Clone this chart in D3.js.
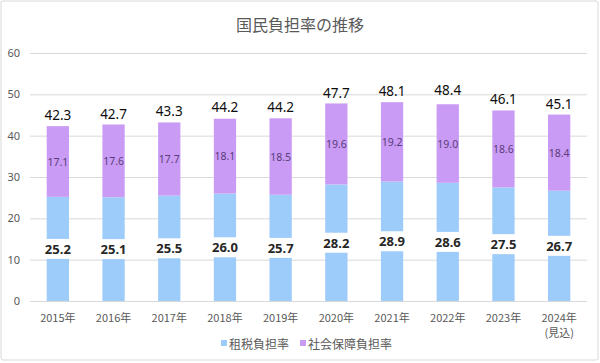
<!DOCTYPE html>
<html>
<head>
<meta charset="utf-8">
<script src="https://cdn.jsdelivr.net/npm/d3@7"></script>
<style>
	body { margin: 0; background: #fff; }
	svg text { font-family: "Noto Sans CJK JP", "Noto Sans", sans-serif; }
</style>
</head>
<body>
<svg id="chart" width="600" height="363"></svg>
<script>
var years = ['2015年', '2016年', '2017年', '2018年', '2019年', '2020年', '2021年', '2022年', '2023年', '2024年'];
var yearNotes = ['', '', '', '', '', '', '', '', '', '(見込)'];
var taxBurden = [25.2, 25.1, 25.5, 26.0, 25.7, 28.2, 28.9, 28.6, 27.5, 26.7];
var socialBurden = [17.1, 17.6, 17.7, 18.1, 18.5, 19.6, 19.2, 19.0, 18.6, 18.4];
var totalBurden = [42.3, 42.7, 43.3, 44.2, 44.2, 47.7, 48.1, 48.4, 46.1, 45.1];
var yTicks = [0, 10, 20, 30, 40, 50, 60];
var seriesNames = ['租税負担率', '社会保障負担率'];

var params = {
	left: 30,
	right: 587,
	top: 53,
	bottom: 301,
	taxColor: '#9dcbfa',
	socialColor: '#c99bf5'
};

var svg = d3.select('#chart');

svg.append('rect')
	.attr('x', 1).attr('y', 1)
	.attr('width', 597).attr('height', 359)
	.attr('rx', 2)
	.attr('fill', '#fff')
	.attr('stroke', '#d9d9d9');

svg.append('text')
	.attr('x', 300).attr('y', 31)
	.attr('text-anchor', 'middle')
	.attr('font-size', 16)
	.attr('fill', '#595959')
	.text('国民負担率の推移');

var x = d3.scaleBand()
	.domain(years)
	.range([params.left, params.right])
	.paddingInner(0.6)
	.paddingOuter(0.3);

var y = d3.scaleLinear()
	.domain([0, 60])
	.range([params.bottom, params.top]);

// grid + y labels
var yAxis = svg.append('g')
	.attr('transform', 'translate(' + params.left + ',0)')
	.call(d3.axisLeft(y).tickValues(yTicks).tickSize(-(params.right - params.left)).tickPadding(10));
yAxis.select('.domain').remove();
yAxis.selectAll('.tick line').attr('stroke', '#d9d9d9');
yAxis.selectAll('.tick text')
	.attr('fill', '#595959')
	.attr('font-size', 11)
	.style('font-family', '"Noto Sans", sans-serif');

var data = years.map(function(yr, i) {
	return { year: yr, note: yearNotes[i], tax: taxBurden[i], social: socialBurden[i], total: totalBurden[i] };
});

var bars = svg.append('g').selectAll('g').data(data).enter().append('g');

bars.append('rect')
	.attr('x', function(d) { return x(d.year); })
	.attr('width', x.bandwidth())
	.attr('y', function(d) { return y(d.tax); })
	.attr('height', function(d) { return y(0) - y(d.tax); })
	.attr('fill', params.taxColor);

bars.append('rect')
	.attr('x', function(d) { return x(d.year); })
	.attr('width', x.bandwidth())
	.attr('y', function(d) { return y(d.tax + d.social); })
	.attr('height', function(d) { return y(d.tax) - y(d.tax + d.social); })
	.attr('fill', params.socialColor);

// tax labels with white box, at middle of blue bar
bars.append('rect')
	.attr('x', function(d) { return x(d.year) + x.bandwidth() / 2 - 15; })
	.attr('y', function(d) { return y(d.tax / 2) - 10; })
	.attr('width', 30)
	.attr('height', 20)
	.attr('fill', '#fff');

bars.append('text')
	.attr('x', function(d) { return x(d.year) + x.bandwidth() / 2; })
	.attr('y', function(d) { return y(d.tax / 2) + 5; })
	.attr('text-anchor', 'middle')
	.attr('font-size', 13)
	.attr('font-weight', 'bold')
	.attr('fill', '#262626')
	.style('font-family', '"Noto Sans", sans-serif')
	.text(function(d) { return d.tax.toFixed(1); });

bars.append('text')
	.attr('x', function(d) { return x(d.year) + x.bandwidth() / 2; })
	.attr('y', function(d) { return y(d.tax + d.social / 2) + 4; })
	.attr('text-anchor', 'middle')
	.attr('font-size', 10.5)
	.attr('fill', '#5a3d7a')
	.style('font-family', '"Noto Sans", sans-serif')
	.text(function(d) { return d.social.toFixed(1); });

bars.append('text')
	.attr('x', function(d) { return x(d.year) + x.bandwidth() / 2; })
	.attr('y', function(d) { return y(d.total) - 6; })
	.attr('text-anchor', 'middle')
	.attr('font-size', 13.5)
	.attr('fill', '#0d0d0d')
	.style('font-family', '"Noto Sans", sans-serif')
	.text(function(d) { return d.total.toFixed(1); });

// x labels
var xl = svg.append('g');
xl.selectAll('text.yr').data(data).enter().append('text')
	.attr('class', 'yr')
	.attr('x', function(d) { return x(d.year) + x.bandwidth() / 2; })
	.attr('y', 322)
	.attr('text-anchor', 'middle')
	.attr('font-size', 11)
	.attr('fill', '#595959')
	.text(function(d) { return d.year; });
xl.selectAll('text.note').data(data.filter(function(d) { return d.note; })).enter().append('text')
	.attr('class', 'note')
	.attr('x', function(d) { return x(d.year) + x.bandwidth() / 2; })
	.attr('y', 337)
	.attr('text-anchor', 'middle')
	.attr('font-size', 11)
	.attr('fill', '#595959')
	.text(function(d) { return d.note; });

// legend
var legendX = [221, 300];
var legendColors = [params.taxColor, params.socialColor];
var legend = svg.append('g').selectAll('g').data(seriesNames).enter().append('g')
	.attr('transform', function(d, i) { return 'translate(' + legendX[i] + ',345)'; });
legend.append('rect')
	.attr('x', 0).attr('y', -5)
	.attr('width', 6).attr('height', 6)
	.attr('fill', function(d, i) { return legendColors[i]; });
legend.append('text')
	.attr('x', 8).attr('y', 4)
	.attr('font-size', 12)
	.attr('fill', '#595959')
	.text(function(d) { return d; });
</script>
</body>
</html>
